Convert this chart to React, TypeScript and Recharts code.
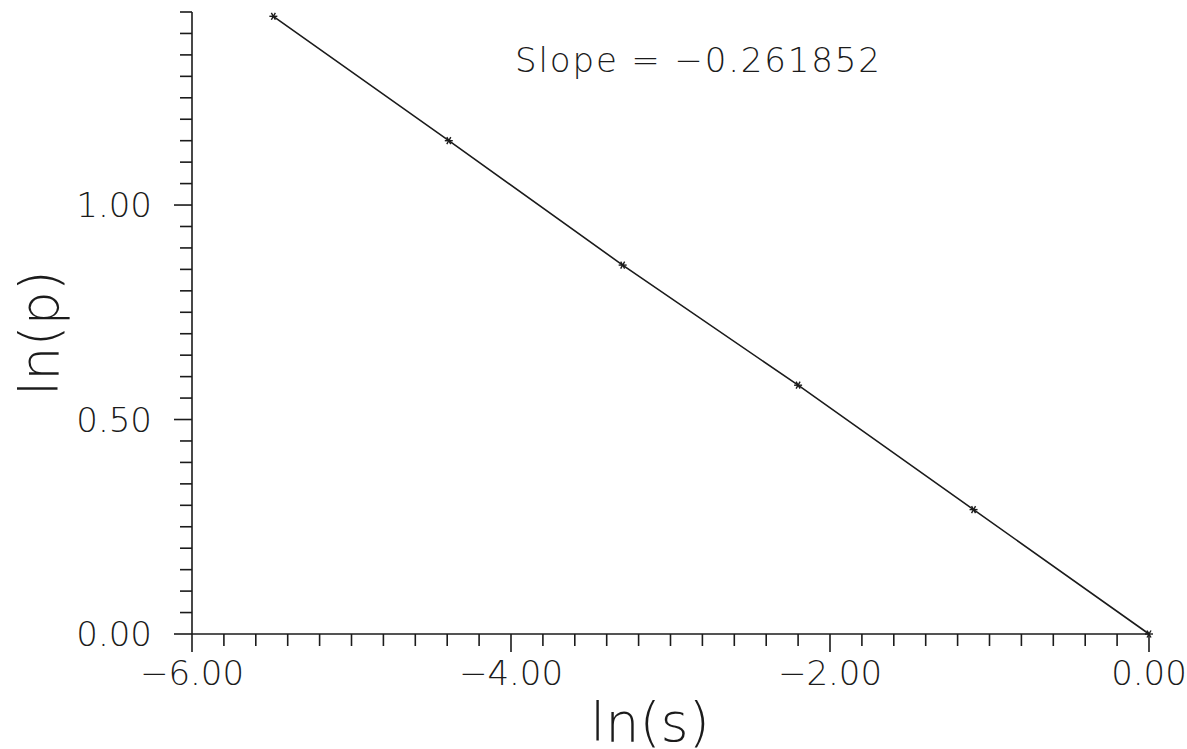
import { LineChart, Line, XAxis, YAxis, Customized } from 'recharts';

// ln(s) and ln(p) read from the plotted points
const lnS = [-5.49, -4.39, -3.3, -2.2, -1.1, 0.0];
const lnP = [1.44, 1.15, 0.86, 0.58, 0.29, 0.0];
const slopeText = 'Slope = −0.261852';

const xMajor = [-6, -4, -2, 0];
const yMajor = [0, 0.5, 1.0];
const xTicks = Array.from({ length: 31 }, (_, i) => Math.round((-6 + i * 0.2) * 10) / 10);
const yTicks = Array.from({ length: 30 }, (_, i) => Math.round(i * 5) / 100);

const data = lnS.map((s, i) => ({ lnS: s, lnP: lnP[i] }));

const INK = '#1b1b1b';
const FONT = '"DejaVu Sans", sans-serif';

const fmt = (v: number) => v.toFixed(2).replace('-', '−');

function XTick(props: any) {
  const { x, y, payload } = props;
  const v = payload.value;
  const major = xMajor.some((m) => Math.abs(m - v) < 1e-6);
  return (
    <g>
      <line x1={x} x2={x} y1={y} y2={y + (major ? 18 : 12)} stroke={INK} strokeWidth={1.6} />
      {major && (
        <text x={x} y={y + 51} textAnchor="middle" fontSize={34} fontFamily={FONT} fontWeight={200} fill={INK}>
          {fmt(v)}
        </text>
      )}
    </g>
  );
}

function YTick(props: any) {
  const { x, y, payload } = props;
  const v = payload.value;
  const major = yMajor.some((m) => Math.abs(m - v) < 1e-6);
  return (
    <g>
      <line x1={x - (major ? 18 : 12)} x2={x} y1={y} y2={y} stroke={INK} strokeWidth={1.6} />
      {major && (
        <text x={x - 40} y={y + 12} textAnchor="end" fontSize={34} fontFamily={FONT} fontWeight={200} fill={INK}>
          {fmt(v)}
        </text>
      )}
    </g>
  );
}

function StarDot(props: any) {
  const { cx, cy } = props;
  if (cx == null || cy == null) return null;
  const r = 4;
  return (
    <g stroke={INK} strokeWidth={1.4}>
      <line x1={cx - r} x2={cx + r} y1={cy} y2={cy} />
      <line x1={cx - r / 2} x2={cx + r / 2} y1={cy - r * 0.87} y2={cy + r * 0.87} />
      <line x1={cx + r / 2} x2={cx - r / 2} y1={cy - r * 0.87} y2={cy + r * 0.87} />
    </g>
  );
}

function Texts() {
  return (
    <g fontFamily={FONT} fontWeight={200} fill={INK}>
      <text x={515} y={72} fontSize={34} textLength={365} lengthAdjust="spacing">
        {slopeText}
      </text>
      <text x={58} y={333} fontSize={54} textAnchor="middle" transform="rotate(-90 58 333)">
        ln(p)
      </text>
      <text x={650} y={741} fontSize={54} textAnchor="middle">
        ln(s)
      </text>
    </g>
  );
}

export default function App() {
  return (
    <div style={{ position: 'absolute', left: 0, top: 0, width: 1187, height: 749, background: '#fff' }}>
      <LineChart width={1187} height={749} data={data} margin={{ top: 12, right: 38, bottom: 0, left: 0 }}>
        <XAxis
          type="number"
          dataKey="lnS"
          domain={[-6, 0]}
          ticks={xTicks}
          interval={0}
          height={115}
          tickSize={0}
          tickMargin={0}
          tickLine={false}
          tick={<XTick />}
          axisLine={{ stroke: INK, strokeWidth: 1.6 }}
        />
        <YAxis
          type="number"
          domain={[0, 1.45]}
          ticks={yTicks}
          interval={0}
          width={192}
          tickSize={0}
          tickMargin={0}
          tickLine={false}
          tick={<YTick />}
          axisLine={{ stroke: INK, strokeWidth: 1.6 }}
        />
        <Line
          type="linear"
          dataKey="lnP"
          stroke={INK}
          strokeWidth={1.6}
          dot={<StarDot />}
          activeDot={false}
          isAnimationActive={false}
        />
        <Customized component={<Texts />} />
      </LineChart>
    </div>
  );
}
